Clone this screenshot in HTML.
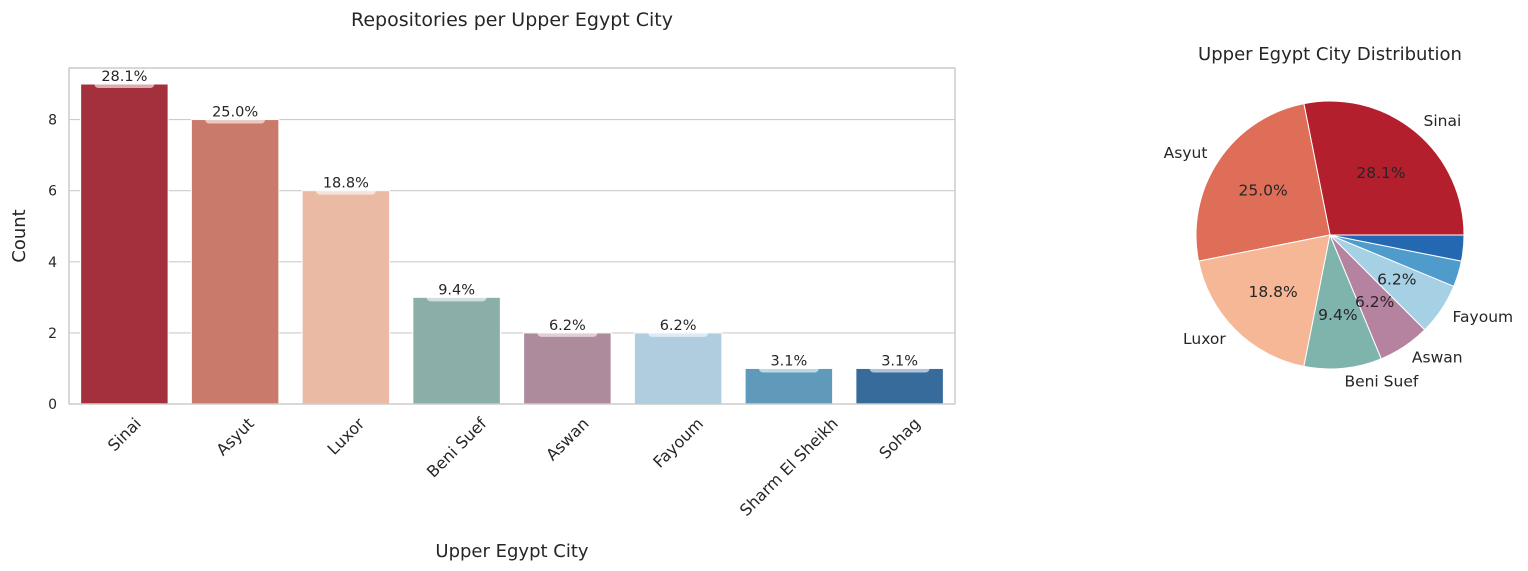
<!DOCTYPE html>
<html><head><meta charset="utf-8"><style>
html,body{margin:0;padding:0;background:#fff;}
svg{display:block;font-family:"DejaVu Sans","Liberation Sans",sans-serif;}
</style></head><body>
<svg id="c" width="1528" height="571" xmlns="http://www.w3.org/2000/svg"></svg>
<script>
const categories=["Sinai","Asyut","Luxor","Beni Suef","Aswan","Fayoum","Sharm El Sheikh","Sohag"];
const counts=[9,8,6,3,2,2,1,1];
const barColors=["#a5303d","#c97a6a","#ebbaa4","#8caea9","#ae8a9d","#b0cddf","#5f9aba","#376b9c"];
const pieColors=["#b41f2e","#de6e57","#f6b796","#7fb4ac","#b5839f","#a6d0e4","#4f9bcb","#2368b0"];
const yTicks=[0,2,4,6,8];
const pieLabels=["Sinai","Asyut","Luxor","Beni Suef","Aswan","Fayoum","",""];

const NS="http://www.w3.org/2000/svg";
const svg=document.getElementById('c');
function el(t,a,p){const e=document.createElementNS(NS,t);for(const k in a)e.setAttribute(k,a[k]);(p||svg).appendChild(e);return e;}
function fmt(x){const s=x*10,f=Math.floor(s),d=s-f;let r;if(Math.abs(d-0.5)<1e-9)r=(f%2===0)?f:f+1;else r=Math.round(s);return (r/10).toFixed(1)+'%';}
const total=counts.reduce((a,b)=>a+b,0);
const X0=69,X1=955,Y0=68,Y1=404;
const yMax=9.45;
const ys=v=>Y1-v/yMax*(Y1-Y0);
const band=(X1-X0)/categories.length;
const xc=i=>X0+band*(i+0.5);

let t=el('text',{x:512,y:26,'font-size':19,fill:'#262626','text-anchor':'middle'});t.textContent='Repositories per Upper Egypt City';


const grid=el('g',{});
yTicks.forEach(v=>{
  el('line',{x1:X0,x2:X1,y1:ys(v),y2:ys(v),stroke:'#cccccc','stroke-width':1.1},grid);
  const tt=el('text',{x:X0-12,y:ys(v)+5,'font-size':14,fill:'#262626','text-anchor':'end'});tt.textContent=v;
  
});
const bars=el('g',{});
counts.forEach((v,i)=>{
  const w=band*0.79;
  const r=el('rect',{x:xc(i)-w/2,y:ys(v),width:w,height:ys(0)-ys(v),fill:barColors[i],stroke:'#fff','stroke-width':1},bars);
  
  
  el('rect',{x:xc(i)-30,y:ys(v)-18,width:60,height:22,rx:4,fill:'#fff','fill-opacity':0.6},bars);
  const lt=el('text',{x:xc(i),y:ys(v)-3,'font-size':14.5,fill:'#262626','text-anchor':'middle'});
  lt.textContent=fmt(v/total*100);
  
  const xt=el('text',{x:0,y:0,'font-size':16,fill:'#262626','text-anchor':'middle','dominant-baseline':'central'});
  xt.textContent=categories[i];
  
  const L=xt.getComputedTextLength();
  const bh=(L+16)*0.7071;
  xt.setAttribute('transform',`translate(${xc(i)},${Y1+11+bh/2}) rotate(-45)`);
});
const frame=el('rect',{x:X0,y:Y0,width:X1-X0,height:Y1-Y0,fill:'none',stroke:'#cccccc','stroke-width':1.5});

t=el('text',{x:0,y:0,'font-size':18,fill:'#262626','text-anchor':'middle',transform:'translate(25,236) rotate(-90)'});t.textContent='Count';

t=el('text',{x:512,y:557,'font-size':18,fill:'#262626','text-anchor':'middle'});t.textContent='Upper Egypt City';


// pie
const cx=1330,cy=235,R=134;
t=el('text',{x:cx,y:60,'font-size':18,fill:'#262626','text-anchor':'middle'});t.textContent='Upper Egypt City Distribution';

const pie=el('g',{});
let a0=0;
counts.forEach((v,i)=>{
  const a1=a0+v/total*2*Math.PI;
  const p=(a)=>[cx+R*Math.cos(a),cy-R*Math.sin(a)];
  const [x0,y0]=p(a0),[x1,y1]=p(a1);
  const s=el('path',{d:`M${cx},${cy}L${x0},${y0}A${R},${R} 0 ${a1-a0>Math.PI?1:0} 0 ${x1},${y1}Z`,fill:pieColors[i],stroke:'#fff','stroke-width':1},pie);
  
  
  const am=(a0+a1)/2;
  if(pieLabels[i]){
    const lx=cx+R*1.1*Math.cos(am),ly=cy-R*1.1*Math.sin(am);
    const lt=el('text',{x:lx,y:ly+5,'font-size':15.5,fill:'#262626','text-anchor':Math.cos(am)>=0?'start':'end'});
    lt.textContent=pieLabels[i];
    
    const px=cx+R*0.6*Math.cos(am),py=cy-R*0.6*Math.sin(am);
    const pt=el('text',{x:px,y:py+5,'font-size':15.5,fill:'#262626','text-anchor':'middle'});
    pt.textContent=fmt(v/total*100);
    
  }
  a0=a1;
});
</script>
</body></html>
